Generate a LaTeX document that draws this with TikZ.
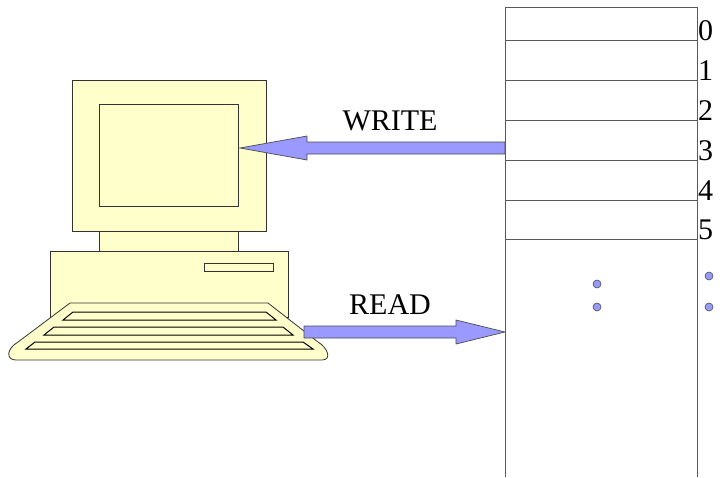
\documentclass[tikz,border=0pt]{standalone}
\usepackage{fontspec}
\setmainfont{Liberation Serif}
\begin{document}
\begin{tikzpicture}[x=1pt,y=-1pt,
  pcpart/.style={fill=pcyellow,draw=black!80,line width=0.8pt},
  keyrow/.style={fill=pcyellow,draw=black,line width=1pt},
  bigarrow/.style={fill=arrowblue,draw=black!70,line width=0.7pt},
  memline/.style={draw=black!65,line width=0.9pt},
  lbl/.style={font=\fontsize{30}{30}\selectfont,inner sep=0pt},
  digit/.style={font=\fontsize{30}{30}\selectfont,inner sep=0pt,anchor=base west},
  dot/.style={circle,fill=arrowblue,draw=black!70,line width=0.6pt,minimum size=8pt,inner sep=0pt}]
\definecolor{pcyellow}{HTML}{FFFFCC}
\definecolor{arrowblue}{HTML}{9999FF}
\useasboundingbox (0,0) rectangle (720,477);
% computer
\draw[pcpart] (72,80) rectangle (266,231);
\draw[pcpart] (99,104) rectangle (238,206);
\draw[pcpart] (99,231) rectangle (238,251);
\draw[pcpart] (50,251) rectangle (288,317);
\draw[pcpart] (204,263) rectangle (273,271);
\draw[pcpart] (70,303) -- (268,303) -- (318,342) .. controls (328,348) and (332,360) .. (322,360)
  -- (16,360) .. controls (6,360) and (6,349) .. (18,342) -- cycle;
\draw[keyrow] (73,312) -- (266,312) -- (276,320) -- (63,320) -- cycle;
\draw[keyrow] (54,327) -- (283,327) -- (293,335) -- (44,335) -- cycle;
\draw[keyrow] (35,342) -- (303,342) -- (313,349) -- (26,349) -- cycle;
% memory
\coordinate (mtl) at (505,7);
\coordinate (mtr) at (697,7);
\coordinate (mbl) at (505,477);
\coordinate (mbr) at (697,477);
\draw[memline] (mbl) -- (mtl) -- (mtr) -- (mbr);
\foreach \i/\y in {0/40,1/80,2/120,3/160,4/200,5/239}{
  \coordinate (l\i) at (505,\y);
  \coordinate (r\i) at (697,\y);
  \draw[memline] (l\i) -- (r\i);
  \node[digit] (d\i) at (698,\y) {\i};
}
\node[dot] (dA) at (597,284) {};
\node[dot] (dB) at (597,307) {};
\node[dot] (dC) at (709,276) {};
\node[dot] (dD) at (709,307) {};
% arrows
\draw[bigarrow] (505,142) -- (307,142) -- (307,136) -- (240,148) -- (307,160) -- (307,154) -- (505,154) -- cycle;
\draw[bigarrow] (304,326) -- (456,326) -- (456,320) -- (505,332) -- (456,344) -- (456,338) -- (304,338) -- cycle;
\node[lbl] (write) at (390,121) {WRITE};
\node[lbl] (read) at (390,305) {READ};
\end{tikzpicture}
\end{document}
